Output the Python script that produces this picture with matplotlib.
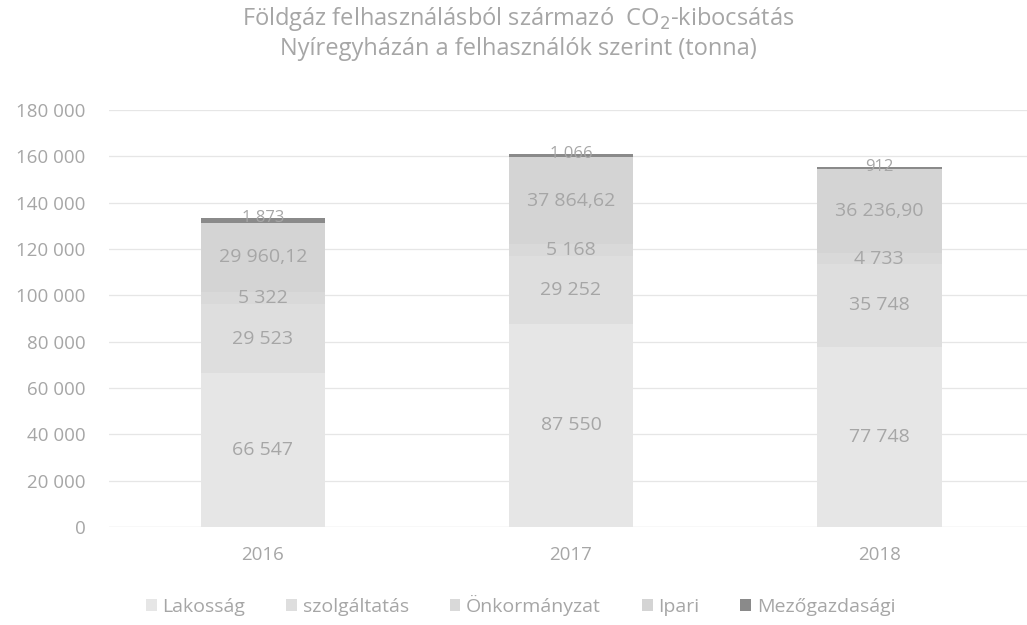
import matplotlib
matplotlib.use("Agg")
import matplotlib.pyplot as plt
import numpy as np

plt.rcParams['font.family'] = ['Open Sans', 'DejaVu Sans']

years = ["2016", "2017", "2018"]
lakossag = [66547, 87550, 77748]
szolgaltatas = [29523, 29252, 35748]
onkormanyzat = [5322, 5168, 4733]
ipari = [29960.12, 37864.62, 36236.90]
mezogazdasagi = [1873, 1066, 912]

lak_labels = ["66 547", "87 550", "77 748"]
szolg_labels = ["29 523", "29 252", "35 748"]
onk_labels = ["5 322", "5 168", "4 733"]
ipari_labels = ["29 960,12", "37 864,62", "36 236,90"]
mezo_labels = ["1 873", "1 066", "912"]

series_names = ["Lakosság", "szolgáltatás", "Önkormányzat", "Ipari", "Mezőgazdasági"]
series = [lakossag, szolgaltatas, onkormanyzat, ipari, mezogazdasagi]
labels = [lak_labels, szolg_labels, onk_labels, ipari_labels, mezo_labels]
colors = ["#e6e6e6", "#dedede", "#d9d9d9", "#d4d4d4", "#8a8a8a"]
ytick_vals = list(range(0, 180001, 20000))

txt = "#a6a6a6"
fig = plt.figure(figsize=(10.27, 6.25), dpi=100)
ax = fig.add_axes([0.106, 0.157, 0.894, 0.667])

x = np.arange(len(years))
bottom = np.zeros(len(years))
for name, vals, labs, col in zip(series_names, series, labels, colors):
    vals = np.array(vals, dtype=float)
    ax.bar(x, vals, 0.405, bottom=bottom, color=col, label=name, zorder=2)
    for i in range(len(years)):
        if name == "Mezőgazdasági":
            ax.text(x[i], bottom[i] + vals[i], labs[i], ha="center", va="center",
                    fontsize=12, color=txt, zorder=3)
        else:
            ax.text(x[i], bottom[i] + vals[i] / 2, labs[i], ha="center", va="center",
                    fontsize=14, color=txt, zorder=3)
    bottom += vals

ax.set_xlim(-0.5, 2.48)
ax.set_ylim(0, 180000)
ax.set_yticks(ytick_vals)
ax.set_yticklabels([f"{v:,}".replace(",", " ") for v in ytick_vals])
ax.set_xticks(x)
ax.set_xticklabels(years)
ax.tick_params(axis="both", length=0, colors=txt, labelsize=13.5)
ax.tick_params(axis="x", pad=14)
ax.tick_params(axis="y", pad=17)
ax.grid(axis="y", color="#e6e6e6", linewidth=0.9, zorder=0)
for s in ax.spines.values():
    s.set_visible(False)
ax.axhline(0, color="#e0e0e0", linewidth=0.9, zorder=1)

fig.text(0.505, 0.97, "Földgáz felhasználásból származó  CO$_2$-kibocsátás",
         ha="center", va="center", fontsize=17, color=txt)
fig.text(0.505, 0.922, "Nyíregyházán a felhasználók szerint (tonna)",
         ha="center", va="center", fontsize=17, color=txt)

leg = fig.legend(loc="center", bbox_to_anchor=(0.507, 0.031), ncol=5, frameon=False,
                 fontsize=14, handlelength=0.55, handleheight=0.55, handletextpad=0.3,
                 columnspacing=2.1)
for t in leg.get_texts():
    t.set_color(txt)

fig.savefig("out.png", dpi=100)
